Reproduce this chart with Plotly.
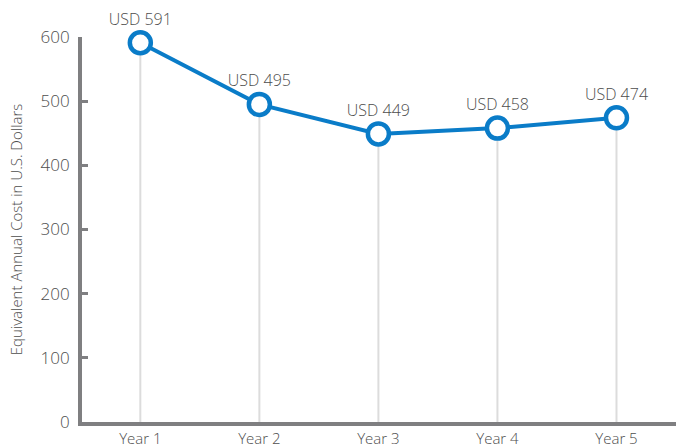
import plotly.graph_objects as go

categories = ["Year 1", "Year 2", "Year 3", "Year 4", "Year 5"]
values = [591, 495, 449, 458, 474]
labels = ["USD 591", "USD 495", "USD 449", "USD 458", "USD 474"]
y_ticks = [0, 100, 200, 300, 400, 500, 600]

blue = "#0a7cc8"
gray = "#7f7f81"
txt = "#4d4d4d"
font_fam = "Open Sans, Lato, sans-serif"

fig = go.Figure()

# drop lines from each point to the axis
fig.add_trace(go.Scatter(
    x=categories, y=values, mode="markers",
    marker=dict(size=1, color="rgba(0,0,0,0)"),
    error_y=dict(type="data", symmetric=False, array=[0]*len(values),
                 arrayminus=values, width=0, thickness=2, color="#dcdcdc"),
    hoverinfo="skip", showlegend=False, cliponaxis=False,
))

fig.add_trace(go.Scatter(
    x=categories, y=values, mode="lines+markers+text",
    text=labels, textposition="top center",
    textfont=dict(family=font_fam, size=16, color=txt, weight=300),
    line=dict(color=blue, width=4),
    marker=dict(size=21, color="white", line=dict(color=blue, width=4.5)),
    showlegend=False, cliponaxis=False,
))

fig.update_layout(
    width=681, height=448,
    margin=dict(l=82, r=5, t=37, b=26),
    paper_bgcolor="white", plot_bgcolor="white",
    font=dict(family=font_fam, color=txt, weight=300),
    xaxis=dict(
        type="category", range=[-0.49, 4.5], automargin=False,
        showline=True, linecolor=gray, linewidth=4,
        showgrid=False, zeroline=False, ticks="",
        tickfont=dict(size=15, color=txt, family=font_fam, weight=300),
    ),
    yaxis=dict(
        range=[0, 600], tickvals=y_ticks, automargin=False,
        showline=True, linecolor=gray, linewidth=4,
        showgrid=False, zeroline=False,
        ticks="inside", ticklen=6, tickwidth=3, tickcolor=gray,
        ticklabelstandoff=5,
        tickfont=dict(size=17, color=txt, family=font_fam, weight=300),
        title=dict(text="Equivalent Annual Cost in U.S. Dollars",
                   font=dict(size=15, color=txt, family=font_fam, weight=300),
                   standoff=15),
    ),
)

fig.write_html("out.html", config={"displayModeBar": False},
               post_script="document.body.style.margin='0';document.body.style.overflow='hidden';")
